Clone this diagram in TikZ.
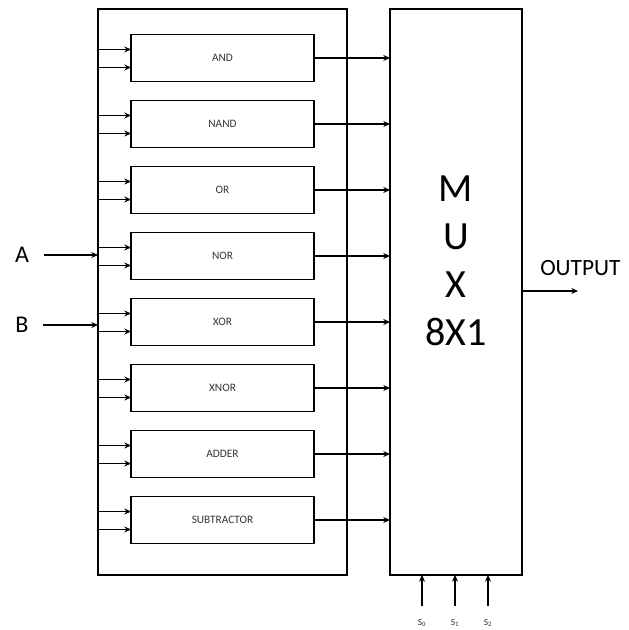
\documentclass[tikz,border=0pt]{standalone}
\usepackage{fontspec}
\setmainfont{Carlito}
\usetikzlibrary{calc,arrows.meta}
\begin{document}
\begin{tikzpicture}[x=0.75pt,y=-0.75pt,
  box/.style={draw,line width=1.4pt,inner sep=0pt,outer sep=0pt},
  gate/.style={box,minimum width=137.25pt,minimum height=35.25pt,font=\fontsize{8.5}{9}\selectfont,text=black!80},
  arr/.style={line width=0.8pt,-{Stealth[length=5pt,width=4.5pt]}},
  big/.style={font=\fontsize{18}{20}\selectfont}]
\useasboundingbox (0,0) rectangle (628,630);
\node[box,minimum width=186.75pt,minimum height=424.5pt] (outer) at (222.5,292) {};
\node[box,minimum width=99pt,minimum height=424.5pt] (mux) at (456,292) {};
\foreach \t [count=\i from 0] in {AND,NAND,OR,NOR,XOR,XNOR,ADDER,SUBTRACTOR}{
  \node[gate] (g\i) at (222.5,{58+66*\i}) {\t};
  \coordinate (a\i) at ($(g\i.west)+(0,-8.5)$);
  \coordinate (b\i) at ($(g\i.west)+(0,9.5)$);
  \draw[arr] (outer.west |- a\i) -- (a\i);
  \draw[arr] (outer.west |- b\i) -- (b\i);
  \draw[arr] (g\i.east) -- (mux.west |- g\i.east);
}
\node[font=\fontsize{30}{32}\selectfont,align=center,inner sep=0pt] (mt) at (456,261) {M\\[4pt]U\\[4pt]X\\[4pt]8X1};
\node[big,inner sep=0pt] (A) at (22,255) {A};
\node[big,inner sep=0pt] (B) at (22,325) {B};
\draw[arr] ([xshift=11pt]A.east) -- (outer.west |- A.east);
\draw[arr] ([xshift=11pt]B.east) -- (outer.west |- B.east);
\node[font=\fontsize{17.5}{19}\selectfont,inner sep=0pt,anchor=west] (out) at (540,268) {OUTPUT};
\coordinate (oe) at (578,291);
\draw[arr] (mux.east |- oe) -- (oe);
\foreach \x [count=\j from 0] in {422,455,488}{
  \node[font=\fontsize{7}{8}\selectfont,inner sep=0pt,text=black!80] (s\j) at (\x,623) {S\textsubscript{\j}};
  \coordinate (t\j) at (\x,606);
  \draw[arr] (t\j) -- (mux.south -| t\j);
}
\end{tikzpicture}
\end{document}
